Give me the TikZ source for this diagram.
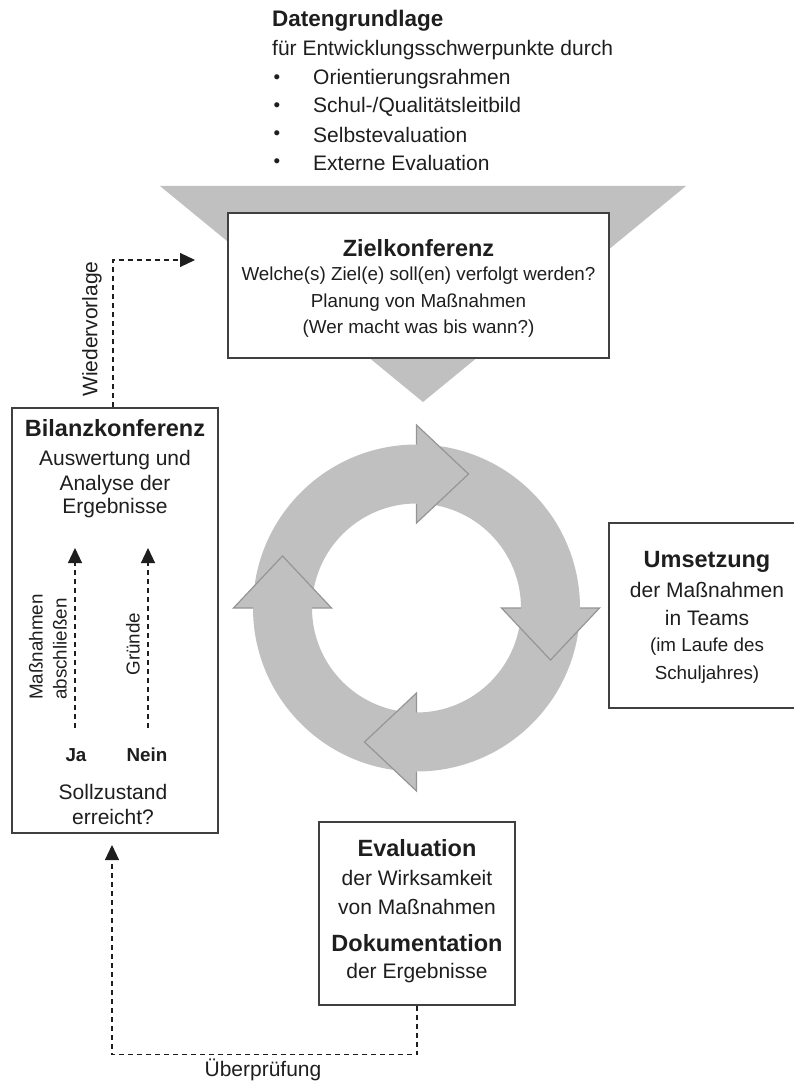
\documentclass[tikz,border=0pt]{standalone}
\usepackage{fontspec}
\setmainfont{Liberation Sans}
\usepackage{tikz}
\usetikzlibrary{arrows.meta}

\definecolor{ringgray}{HTML}{C0C0C0}
\definecolor{headgray}{HTML}{959595}
\definecolor{ink}{HTML}{1E1E1E}

\newcommand{\bodysize}{\fontsize{21}{25}\selectfont}
\newcommand{\headsize}{\fontsize{23.5}{27}\selectfont\bfseries}
\newcommand{\notesize}{\fontsize{18.8}{24}\selectfont}

\tikzstyle{box} = [rectangle, draw=ink!85, line width=1.4pt, fill=white,
                 inner sep=0pt]
\tikzstyle{txt} = [inner sep=0pt, text=ink, font=\bodysize]
\tikzstyle{head} = [inner sep=0pt, text=ink, font=\headsize]
\tikzstyle{note} = [inner sep=0pt, text=ink, font=\notesize]
\tikzstyle{link} = [draw=ink, line width=1.1pt, dash pattern=on 5pt off 4pt]
\tikzstyle{headed} = [-{Triangle[length=15pt,width=14pt]}]

\begin{document}
\begin{tikzpicture}[x=1pt,y=-1pt]
\useasboundingbox (0,0) rectangle (794,1083);

% data block on top
\node [txt, anchor=west, font=\fontsize{22.5}{27}\selectfont\bfseries] (daten) at (272,21) {Datengrundlage};
\node [txt, anchor=west] (fuer) at (272,50) {für Entwicklungsschwerpunkte durch};
\foreach \y/\item in {79/Orientierungsrahmen, 107/{Schul-/Qualitätsleitbild},
                      135/Selbstevaluation, 163/Externe Evaluation}
{
	\node [note] (dot\y) at (277,\y) {\textbullet};
	\node [txt, anchor=west] (item\y) at (313,\y) {\item};
}

% funnel
\fill [ringgray] (160,186) -- (686,186) -- (423,402) -- cycle;

% cycle ring with heads
\fill [ringgray, even odd rule] (416.5,608) circle (163.5) (416.5,608) circle (104.5);
\foreach \a in {0,90,180,270}
{
	\begin{scope}[shift={(416.5,608)}, rotate=\a]
	\fill [ringgray] (0,-183) -- (52,-134) -- (0,-85) -- cycle;
	\draw [headgray, line width=1.2pt, line join=miter]
		(0,-163.5) -- (0,-183) -- (52,-134) -- (0,-85) -- (0,-104.5);
	\end{scope}
}

% boxes
\node [box, minimum width=381, minimum height=145] (ziel) at (418.5,285.5) {};
\node [box, minimum width=201, minimum height=185] (umsetz) at (709.5,615.5) {};
\node [box, minimum width=196, minimum height=183] (eval) at (417,913.5) {};
\node [box, minimum width=206, minimum height=425] (bilanz) at (115,620.5) {};

% Zielkonferenz
\node [head] (zielt) at (418.5,248) {Zielkonferenz};
\foreach \y/\line in {276/{Welche(s) Ziel(e) soll(en) verfolgt werden?},
                      303/Planung von Maßnahmen, 329/(Wer macht was bis wann?)}
	\node [note] (ziel\y) at (418.5,\y) {\line};

% Umsetzung
\node [head] (umsetzt) at (707,562) {Umsetzung};
\node [txt] (umsetz1) at (707,590) {der Maßnahmen};
\node [txt] (umsetz2) at (707,618) {in Teams};
\node [note] (umsetz3) at (707,647) {(im Laufe des};
\node [note] (umsetz4) at (707,675) {Schuljahres)};

% Evaluation
\node [head] (evalt) at (417,848) {Evaluation};
\node [txt] (eval1) at (417,878) {der Wirksamkeit};
\node [txt] (eval2) at (417,907) {von Maßnahmen};
\node [head] (dokut) at (417,943) {Dokumentation};
\node [txt] (eval3) at (417,973) {der Ergebnisse};

% Bilanzkonferenz
\node [head] (bilanzt) at (115,428) {Bilanzkonferenz};
\foreach \y/\line in {460/Auswertung und, 485/Analyse der, 508/Ergebnisse}
	\node [txt] (bilanz\y) at (115,\y) {\line};
\node [txt, font=\notesize\bfseries] (ja) at (76,755) {Ja};
\node [txt, font=\notesize\bfseries] (nein) at (147,755) {Nein};
\node [txt] (soll1) at (113,792) {Sollzustand};
\node [txt] (soll2) at (113,817) {erreicht?};

\coordinate (jatop) at (75,548);
\coordinate (neintop) at (148,548);
\draw [link, headed] ([yshift=20pt]ja.north -| jatop) -- (jatop);
\draw [link, headed] ([yshift=20pt]nein.north -| neintop) -- (neintop);
\node [note, rotate=90, align=left] (massn) at (48,647) {Maßnahmen\\abschließen};
\node [note, rotate=90] (gruende) at (133,644) {Gründe};

% feedback links
\coordinate (wv) at (195,260);
\draw [link, headed] (bilanz.north -| 113,0) |- (wv);
\node [txt, rotate=90] (wieder) at (92,329) {Wiedervorlage};

\coordinate (ue) at (112,845);
\draw [link, headed] (eval.south) -- ++(0,49) -| (ue);
\node [txt] (ueber) at (263,1070) {Überprüfung};

\end{tikzpicture}
\end{document}
